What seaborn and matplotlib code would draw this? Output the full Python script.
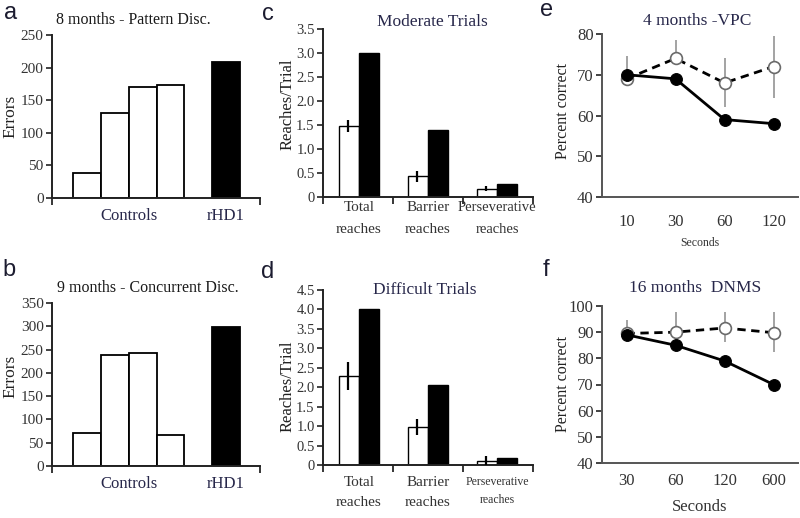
import numpy as np
import pandas as pd
import matplotlib
matplotlib.use("Agg")
import matplotlib.pyplot as plt
from matplotlib.ticker import FuncFormatter
import seaborn as sns

# ---------------- data ----------------
a_controls = [38, 130, 170, 173]
a_rhd1 = 208
b_controls = [70, 238, 242, 67]
b_rhd1 = 298

reach_cats = ["Total\nreaches", "Barrier\nreaches", "Perseverative\nreaches"]
c_ctrl = [1.48, 0.43, 0.17]
c_ctrl_err = [0.13, 0.12, 0.05]
c_rhd1 = [3.0, 1.4, 0.27]
d_ctrl = [2.3, 0.97, 0.10]
d_ctrl_err = [0.36, 0.21, 0.14]
d_rhd1 = [4.0, 2.07, 0.18]

e_delays = ["10", "30", "60", "120"]
e_ctrl = [69, 74, 68, 72]
e_ctrl_lo = [0, 0, 6.0, 7.6]
e_ctrl_hi = [5.6, 4.6, 6.2, 7.6]
e_rhd1 = [70, 69, 59, 58]

f_delays = ["30", "60", "120", "600"]
f_ctrl = [89.5, 90, 91.6, 89.8]
f_ctrl_lo = [0, 0, 5.2, 7.4]
f_ctrl_hi = [5.0, 7.7, 6.1, 7.9]
f_rhd1 = [89, 85, 79, 70]

# ---------------- style ----------------
sns.set_theme(style="ticks")
plt.rcParams["font.family"] = ["Liberation Serif", "DejaVu Serif"]
TXT = "#27274a"
NUM = "#333333"

fig = plt.figure(figsize=(8, 5.18), dpi=100)
W, H = 800.0, 518.0


def add_ax(l, r, t, b):
    return fig.add_axes([l / W, 1 - b / H, (r - l) / W, (b - t) / H])


def style_ax(ax):
    sns.despine(ax=ax)
    for s in ("left", "bottom"):
        ax.spines[s].set_linewidth(1.4)
        ax.spines[s].set_color("#222222")
    ax.tick_params(axis="y", direction="out", length=4, width=1.2, pad=2,
                   labelsize=11, labelcolor=NUM, color="#222222")
    ax.set_facecolor("white")


def set_ylabel(ax, text, size, x, y):
    ax.set_ylabel(text, fontsize=size, color="#222222", va="center")
    ax.yaxis.set_label_coords(x, y)


def panel_label(x, y, s):
    fig.text(x / W, 1 - y / H, s, fontsize=17, family=["Liberation Sans", "DejaVu Sans"],
             color="#1c1c30", ha="center", va="center")


# ---------------- a & b ----------------
def error_panel(ax, controls, rhd1, ymax, step, title, tx, ty, ly):
    n = len(controls)
    pos = list(range(1, n + 1)) + [n + 2]
    df = pd.DataFrame({"pos": pos, "val": list(controls) + [rhd1],
                       "grp": ["Controls"] * n + ["rHD1"]})
    sns.barplot(data=df, x="pos", y="val", hue="grp", native_scale=True, width=1,
                palette={"Controls": "white", "rHD1": "black"}, edgecolor="black",
                linewidth=1.3, legend=False, errorbar=None, ax=ax)
    ax.set_xlim(-0.26, n + 3.22)
    ax.set_ylim(0, ymax)
    ax.set_yticks(np.arange(0, ymax + 1, step))
    ax.set_xticks([(1 + n) / 2, n + 2])
    ax.set_xticklabels(["Controls", "rHD1"], fontsize=12, color=TXT)
    ax.set_xticks([-0.26, n + 3.22], minor=True)
    style_ax(ax)
    ax.tick_params(axis="x", which="major", length=0, pad=7)
    ax.tick_params(axis="x", which="minor", length=5, width=1.3, direction="out")
    ax.set_xlabel("")
    set_ylabel(ax, "Errors", 12.5, -0.20, ly)
    ax.text(tx, ty, title, transform=ax.transAxes, ha="center", va="center",
            fontsize=11.5, color="#1a1a1a")


ax_a = add_ax(52, 260, 35, 198)
error_panel(ax_a, a_controls, a_rhd1, 250, 50, "8 months - Pattern Disc.", 0.39, 1.09, 0.5)
ax_b = add_ax(52, 260, 303, 466)
error_panel(ax_b, b_controls, b_rhd1, 350, 50, "9 months - Concurrent Disc.", 0.46, 1.09, 0.55)


# ---------------- c & d ----------------
def reach_panel(ax, ctrl, err, rhd1, ymax, title, ty, tx, persev_size, lab_pad, lsp):
    df = pd.DataFrame({"cat": reach_cats * 2, "val": list(ctrl) + list(rhd1),
                       "grp": ["Controls"] * 3 + ["rHD1"] * 3})
    sns.barplot(data=df, x="cat", y="val", hue="grp", width=0.58,
                palette={"Controls": "white", "rHD1": "black"}, edgecolor="black",
                linewidth=1.0, legend=False, errorbar=None, ax=ax)
    xs = np.arange(len(reach_cats)) - 0.16
    ax.errorbar(xs, ctrl, yerr=err, fmt="none", ecolor="black", elinewidth=1.6,
                capsize=0, zorder=5)
    ax.set_xlim(-0.52, 2.52)
    ax.set_ylim(0, ymax)
    ax.set_yticks(np.arange(0, ymax + 0.01, 0.5))
    ax.yaxis.set_major_formatter(FuncFormatter(lambda v, p: "0" if v == 0 else f"{v:.1f}"))
    ax.set_xticks([0, 1, 2])
    ax.set_xticklabels(reach_cats, fontsize=11, color=NUM, linespacing=lsp)
    ax.get_xticklabels()[2].set_fontsize(persev_size)
    ax.set_xticks([-0.52, 0.5, 1.5, 2.52], minor=True)
    style_ax(ax)
    ax.tick_params(axis="y", labelsize=10.5)
    ax.tick_params(axis="x", which="major", length=0, pad=lab_pad)
    ax.tick_params(axis="x", which="minor", length=5, width=1.3, direction="out")
    ax.set_xlabel("")
    ax.text(tx, ty, title, transform=ax.transAxes, ha="center", va="center",
            fontsize=12.5, color=TXT)


ax_c = add_ax(323, 533, 29, 197)
reach_panel(ax_c, c_ctrl, c_ctrl_err, c_rhd1, 3.5, "Moderate Trials", 1.04, 0.52, 10.5, 3, 1.9)
set_ylabel(ax_c, "Reaches/Trial", 12, -0.17, 0.55)
ax_d = add_ax(323, 533, 290, 465)
reach_panel(ax_d, d_ctrl, d_ctrl_err, d_rhd1, 4.5, "Difficult Trials", 1.0, 0.486, 8.5, 8, 1.7)
set_ylabel(ax_d, "Reaches/Trial", 12, -0.17, 0.45)


# ---------------- e & f ----------------
def delay_panel(ax, delays, ctrl, lo, hi, rhd1, ymin, ymax, title, tx, ty,
                tick_pad, xlab_size, xlab_y, ly):
    x = np.arange(len(delays))
    ax.errorbar(x, ctrl, yerr=[lo, hi], fmt="none", ecolor="#8a8a8a", elinewidth=1.1,
                capsize=0, zorder=1)
    sns.lineplot(x=x, y=ctrl, ax=ax, color="black", linewidth=2.0, linestyle=(0, (3, 2)),
                 marker="o", markersize=8.5, markerfacecolor="white",
                 markeredgecolor="#6a6a6a", markeredgewidth=1.2, zorder=2)
    sns.lineplot(x=x, y=rhd1, ax=ax, color="black", linewidth=2.0, marker="o",
                 markersize=8.5, markerfacecolor="black", markeredgecolor="black", zorder=3)
    ax.set_xlim(-0.5, len(delays) - 0.5)
    ax.set_ylim(ymin, ymax)
    ax.set_yticks(np.arange(ymin, ymax + 1, 10))
    ax.set_xticks(x)
    ax.set_xticklabels(delays, fontsize=12, color=NUM)
    style_ax(ax)
    ax.spines["left"].set_color("#555555")
    ax.spines["bottom"].set_color("#555555")
    ax.tick_params(axis="y", labelsize=12)
    ax.tick_params(axis="x", length=0, pad=tick_pad)
    set_ylabel(ax, "Percent correct", 11.5, -0.20, ly)
    ax.set_xlabel("Seconds", fontsize=xlab_size, color=NUM, va="center")
    ax.xaxis.set_label_coords(0.5, xlab_y)
    ax.text(tx, ty, title, transform=ax.transAxes, ha="center", va="center",
            fontsize=12.5, color=TXT)


ax_e = add_ax(602, 798, 34, 197)
delay_panel(ax_e, e_delays, e_ctrl, e_ctrl_lo, e_ctrl_hi, e_rhd1, 40, 80,
            "4 months -VPC", 0.485, 1.08, 12, 8.5, -0.285, 0.53)
ax_f = add_ax(602, 798, 306, 463)
delay_panel(ax_f, f_delays, f_ctrl, f_ctrl_lo, f_ctrl_hi, f_rhd1, 40, 100,
            "16 months  DNMS", 0.475, 1.115, 7, 12, -0.28, 0.5)

# ---------------- panel letters ----------------
panel_label(11, 13, "a")
panel_label(9, 270, "b")
panel_label(268, 14, "c")
panel_label(268, 272, "d")
panel_label(547, 10, "e")
panel_label(546, 270, "f")

fig.savefig("out.png", dpi=100, facecolor="white")
